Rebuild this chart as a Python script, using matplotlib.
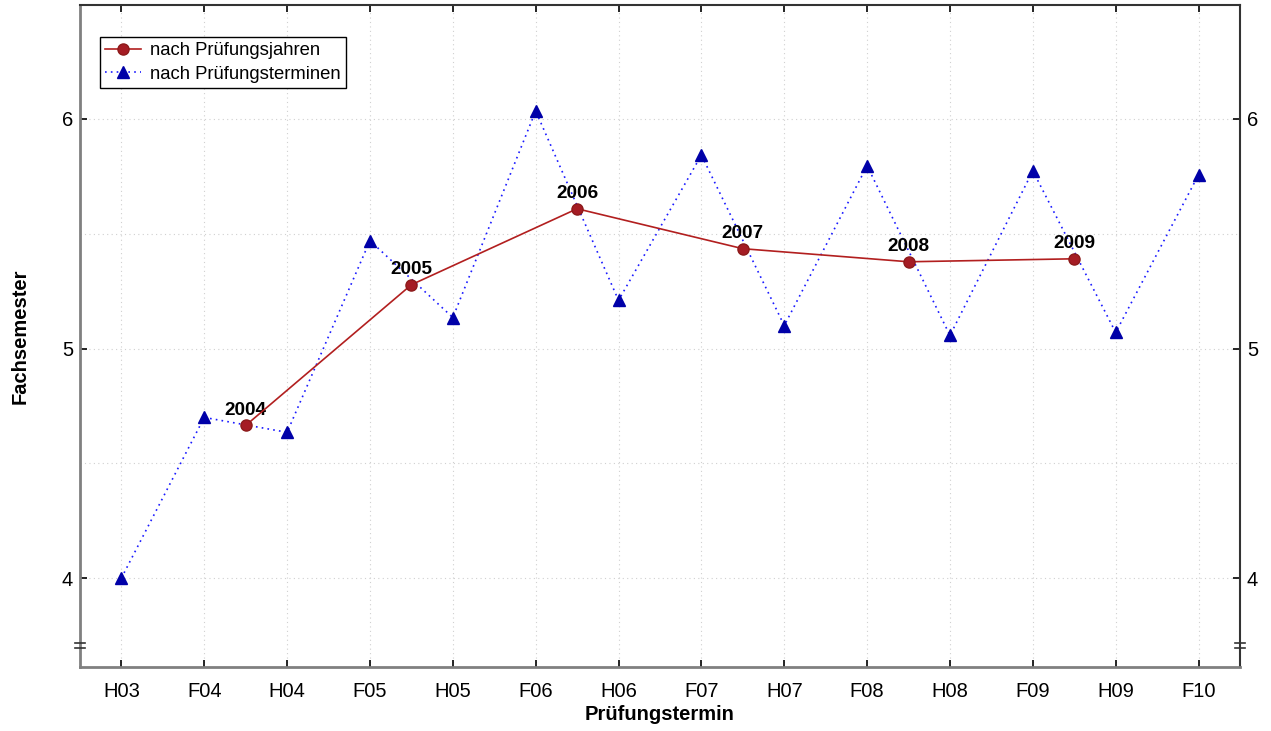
import matplotlib.pyplot as plt
import matplotlib.transforms as mtransforms
import numpy as np

plt.rcParams['font.family'] = ['Liberation Sans', 'DejaVu Sans']

# exam dates (F = spring, H = autumn)
termine = ['H03', 'F04', 'H04', 'F05', 'H05', 'F06', 'H06',
           'F07', 'H07', 'F08', 'H08', 'F09', 'H09', 'F10']
sem_termine = [4.00, 4.70, 4.635, 5.47, 5.135, 6.035, 5.21,
               5.843, 5.10, 5.796, 5.057, 5.774, 5.07, 5.757]

# yearly means, placed between the two dates of each year
jahre = ['2004', '2005', '2006', '2007', '2008', '2009']
jahr_pos = [1.5, 3.5, 5.5, 7.5, 9.5, 11.5]
sem_jahre = [4.665, 5.278, 5.609, 5.435, 5.378, 5.391]

fig = plt.figure(figsize=(12.71, 7.31), dpi=100)
ax = fig.add_axes([0.0629, 0.0876, 0.9127, 0.9054])

x = np.arange(len(termine))
ax.plot(jahr_pos, sem_jahre, color='#b21f1f', lw=1.2, marker='o', ms=8,
        mfc='#a51c24', mec='#8c1a1a', label='nach Prüfungsjahren', zorder=4)
ax.plot(x, sem_termine, color='#1a1aff', lw=1.2, ls=(0, (1, 2.5)), marker='^', ms=8,
        mfc='#0000a8', mec='#0000a8', label='nach Prüfungsterminen', zorder=3)

for j, xp, yp in zip(jahre, jahr_pos, sem_jahre):
    ax.annotate(j, (xp, yp), xytext=(0, 5), textcoords='offset points',
                ha='center', va='bottom', fontsize=13.7, fontweight='bold')

ax.set_xlim(-0.5, 13.5)
ax.set_ylim(3.613, 6.496)
ax.set_xticks(x)
ax.set_xticklabels(termine)
ax.set_yticks([4, 5, 6])
ax.set_yticklabels(['4', '5', '6'])
ax.set_yticks([4.5, 5.5], minor=True)
ax.tick_params(axis='both', which='major', direction='in', length=5, width=1.2,
               labelsize=14.5, top=True, right=True, labelright=True)
ax.tick_params(axis='x', pad=11)
ax.tick_params(axis='y', pad=5)
ax.tick_params(axis='y', which='minor', length=0)
ax.grid(True, which='both', color='#d0d0d0', ls=(0, (1, 3)), lw=0.8)
ax.set_axisbelow(True)

for side in ['left', 'bottom']:
    ax.spines[side].set_color('#808080')
    ax.spines[side].set_linewidth(2)
for side in ['top', 'right']:
    ax.spines[side].set_color('#333333')
    ax.spines[side].set_linewidth(1.5)

ax.set_xlabel('Prüfungstermin', fontsize=14.5, fontweight='bold', labelpad=3)
ax.set_ylabel('Fachsemester', fontsize=14.5, fontweight='bold', labelpad=23)

# axis break marks on both y axes
tr = mtransforms.blended_transform_factory(ax.transAxes, ax.transData)
for xa in (0.0, 1.0):
    for yb in (3.696, 3.717):
        ax.plot([xa - 0.0045, xa + 0.0045], [yb, yb], color='#333333', lw=1.2,
                transform=tr, clip_on=False, zorder=5)

leg = ax.legend(loc='upper left', bbox_to_anchor=(0.0172, 0.952), fontsize=13.3,
                frameon=True, fancybox=False, edgecolor='black', framealpha=1,
                handlelength=1.9, borderpad=0.3, labelspacing=0.35, handletextpad=0.5,
                borderaxespad=0)
leg.get_frame().set_linewidth(1.0)

fig.savefig('out.png', dpi=100)
